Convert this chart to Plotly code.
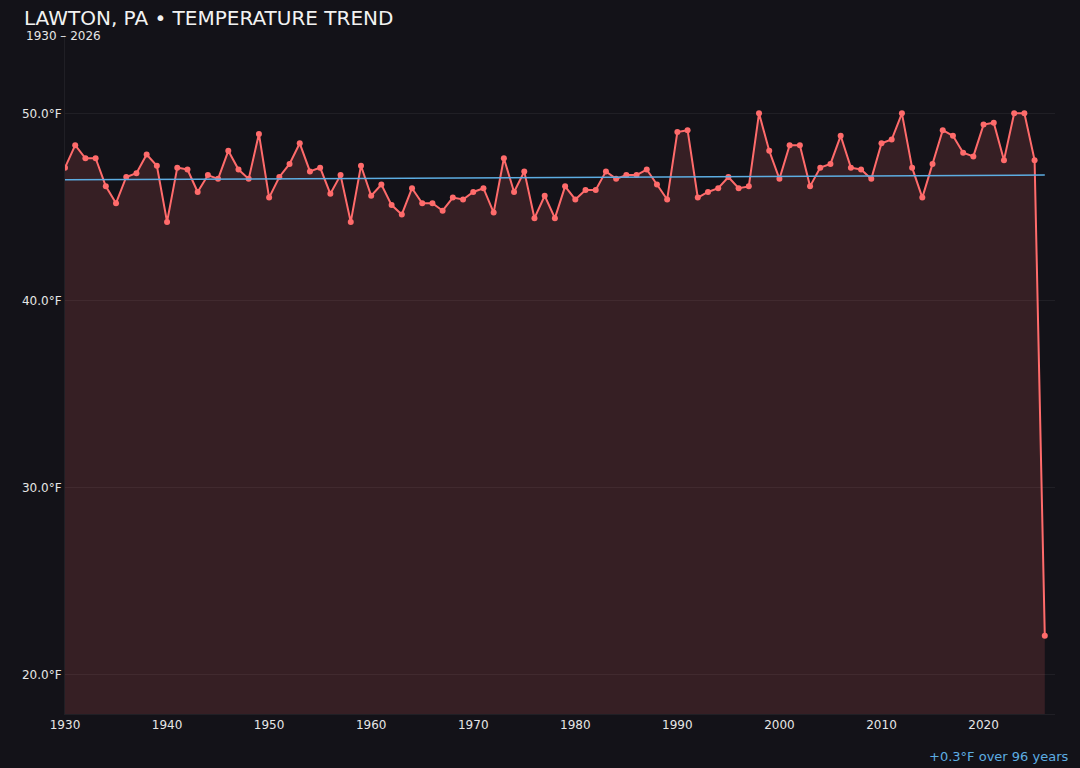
"""Annual mean temperature trend chart for Lawton, PA."""

import plotly.graph_objects as go

BG = "#131218"
LINE = "#ff6b6b"
TREND = "#5dade2"
TEXT = "#e6e6e6"
GRID = "#201f25"

years = list(range(1930, 2027))
temps = [
    47.1, 48.3, 47.6, 47.6, 46.1, 45.2, 46.6, 46.8, 47.8, 47.2,  # 1930s
    44.2, 47.1, 47.0, 45.8, 46.7, 46.5, 48.0, 47.0, 46.5, 48.9,  # 1940s
    45.5, 46.6, 47.3, 48.4, 46.9, 47.1, 45.7, 46.7, 44.2, 47.2,  # 1950s
    45.6, 46.2, 45.1, 44.6, 46.0, 45.2, 45.2, 44.8, 45.5, 45.4,  # 1960s
    45.8, 46.0, 44.7, 47.6, 45.8, 46.9, 44.4, 45.6, 44.4, 46.1,  # 1970s
    45.4, 45.9, 45.9, 46.9, 46.5, 46.7, 46.7, 47.0, 46.2, 45.4,  # 1980s
    49.0, 49.1, 45.5, 45.8, 46.0, 46.6, 46.0, 46.1, 50.0, 48.0,  # 1990s
    46.5, 48.3, 48.3, 46.1, 47.1, 47.3, 48.8, 47.1, 47.0, 46.5,  # 2000s
    48.4, 48.6, 50.0, 47.1, 45.5, 47.3, 49.1, 48.8, 47.9, 47.7,  # 2010s
    49.4, 49.5, 47.5, 50.0, 50.0, 47.5, 22.1,                    # 2020s
]

# trend line end points
trend_years = [1930, 2026]
trend_temps = [46.45, 46.70]

x_ticks = [1930, 1940, 1950, 1960, 1970, 1980, 1990, 2000, 2010, 2020]
y_ticks = [20, 30, 40, 50]

lo, hi = min(temps), max(temps)
pad = (hi - lo) * 0.15

fig = go.Figure()
fig.add_trace(go.Scatter(
    x=years,
    y=temps,
    mode="lines+markers",
    line=dict(color=LINE, width=2),
    marker=dict(color=LINE, size=6),
    fill="tozeroy",
    fillcolor="rgba(255, 107, 107, 0.15)",
    name="Annual mean",
))
fig.add_trace(go.Scatter(
    x=trend_years,
    y=trend_temps,
    mode="lines",
    line=dict(color=TREND, width=1.5),
    name="Trend",
))

fig.update_layout(
    width=1080,
    height=768,
    paper_bgcolor=BG,
    plot_bgcolor=BG,
    showlegend=False,
    font=dict(family="DejaVu Sans", color=TEXT, size=12),
    margin=dict(l=65, r=25, t=35, b=54),
    title=dict(
        text="LAWTON, PA • TEMPERATURE TREND",
        xref="container", yref="container",
        x=24 / 1080, y=1 - 18 / 768,
        xanchor="left", yanchor="middle",
        font=dict(size=20, color="#f2f2f2"),
    ),
    xaxis=dict(
        range=[1930, 2027],
        tickvals=x_ticks,
        showgrid=False,
        zeroline=False,
        showline=True,
        linecolor=GRID,
        ticks="",
    ),
    yaxis=dict(
        range=[lo - pad, hi + pad],
        tickvals=y_ticks,
        ticktext=[f"{v:.1f}°F" for v in y_ticks],
        gridcolor=GRID,
        zeroline=False,
        showline=True,
        linecolor=GRID,
        ticks="",
    ),
)

fig.add_annotation(
    text="1930 – 2026",
    xref="paper", yref="paper",
    x=(24 - 65) / 990, y=1 - 1.5 / 679,
    xanchor="left", yanchor="middle",
    showarrow=False,
    font=dict(size=12, color=TEXT),
)
fig.add_annotation(
    text="+0.3°F over 96 years",
    xref="paper", yref="paper",
    x=(1070 - 65) / 990, y=(714 - 756) / 679,
    xanchor="right", yanchor="middle",
    showarrow=False,
    font=dict(size=13, color=TREND),
)

# drop the browser's default page margin so the chart fills the window
fig.write_html(
    "out.html",
    config={"displayModeBar": False},
    post_script="document.body.style.margin = '0';",
)
